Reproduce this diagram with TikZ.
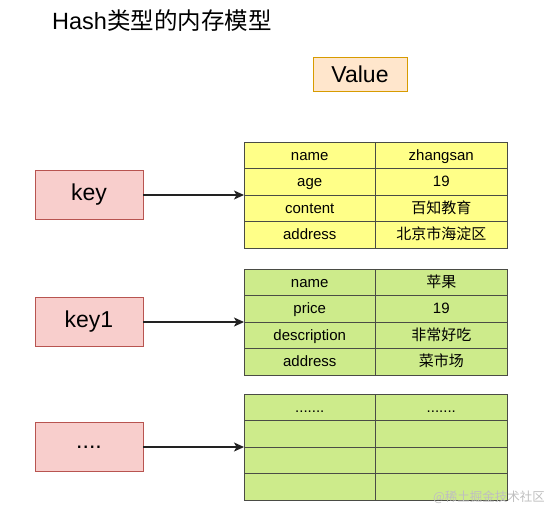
\documentclass[tikz,border=0pt]{standalone}
\usepackage{fontspec}
\setmainfont{Liberation Sans}
\newfontfamily\cjk{Noto Sans CJK SC}
\usetikzlibrary{arrows.meta, positioning}

\definecolor{keyfill}{HTML}{F8CECC}
\definecolor{keyline}{HTML}{B85450}
\definecolor{valfill}{HTML}{FFE6CC}
\definecolor{valline}{HTML}{D79B00}
\definecolor{yelfill}{HTML}{FFFF88}
\definecolor{grnfill}{HTML}{CDEB8B}
\definecolor{cellline}{HTML}{4A4C45}
\definecolor{arrowline}{HTML}{222222}

\newcommand\moredots{.......}

\begin{document}
\begin{tikzpicture}[
    x=1pt, y=-1pt,
    keybox/.style={draw=keyline, fill=keyfill, line width=0.8pt,
        minimum width=108pt, minimum height=49pt,
        font=\fontsize{23}{27}\selectfont},
    cell/.style={draw=cellline, line width=0.8pt, inner sep=0pt, outer sep=0pt,
        minimum width=131.5pt, minimum height=26.5pt,
        text height=11pt, text depth=1pt,
        font=\fontsize{15}{18}\selectfont},
    link/.style={draw=arrowline, line width=1.2pt,
        -{Stealth[length=10pt, width=9pt, inset=2.5pt]}}
]
\useasboundingbox (0,0) rectangle (544,509);

% title and header
\node[anchor=west, inner sep=0pt, font=\fontsize{23.5}{28}\selectfont] (title) at (52,21) {Hash{\cjk 类型的内存模型}};
\node[draw=valline, fill=valfill, line width=0.8pt, minimum width=94pt, minimum height=34pt,
    font=\fontsize{23}{27}\selectfont] (value) at (360,74) {Value};

% keys
\node[keybox] (key) at (89,195) {key};
\node[keybox] (key1) at (89,322) {key1};
\node[keybox] (key2) at (89,447) {....};

% first hash
\foreach \f/\v [count=\i] in {name/zhangsan, age/19, content/{\cjk 百知教育}, address/{\cjk 北京市海淀区}} {
    \node[cell, fill=yelfill] (t1k\i) at (309.75,{128.75+26.5*\i}) {\f};
    \node[cell, fill=yelfill, right=0pt of t1k\i] (t1v\i) {\v};
}

% second hash
\foreach \f/\v [count=\i] in {name/{\cjk 苹果}, price/19, description/{\cjk 非常好吃}, address/{\cjk 菜市场}} {
    \node[cell, fill=grnfill] (t2k\i) at (309.75,{255.75+26.5*\i}) {\f};
    \node[cell, fill=grnfill, right=0pt of t2k\i] (t2v\i) {\v};
}

% third hash
\foreach \f/\v [count=\i] in {\moredots/\moredots, {}/{}, {}/{}, {}/{}} {
    \node[cell, fill=grnfill] (t3k\i) at (309.75,{380.75+26.5*\i}) {\f};
    \node[cell, fill=grnfill, right=0pt of t3k\i] (t3v\i) {\v};
}

% pointers
\draw[link] (key.east) -- (t1k2.south west);
\draw[link] (key1.east) -- (t2k2.south west);
\draw[link] (key2.east) -- (t3k2.south west);

\node[text=black!25, font=\cjk\fontsize{12.5}{15}\selectfont] (mark) at (489,497) {@稀土掘金技术社区};
\end{tikzpicture}
\end{document}
